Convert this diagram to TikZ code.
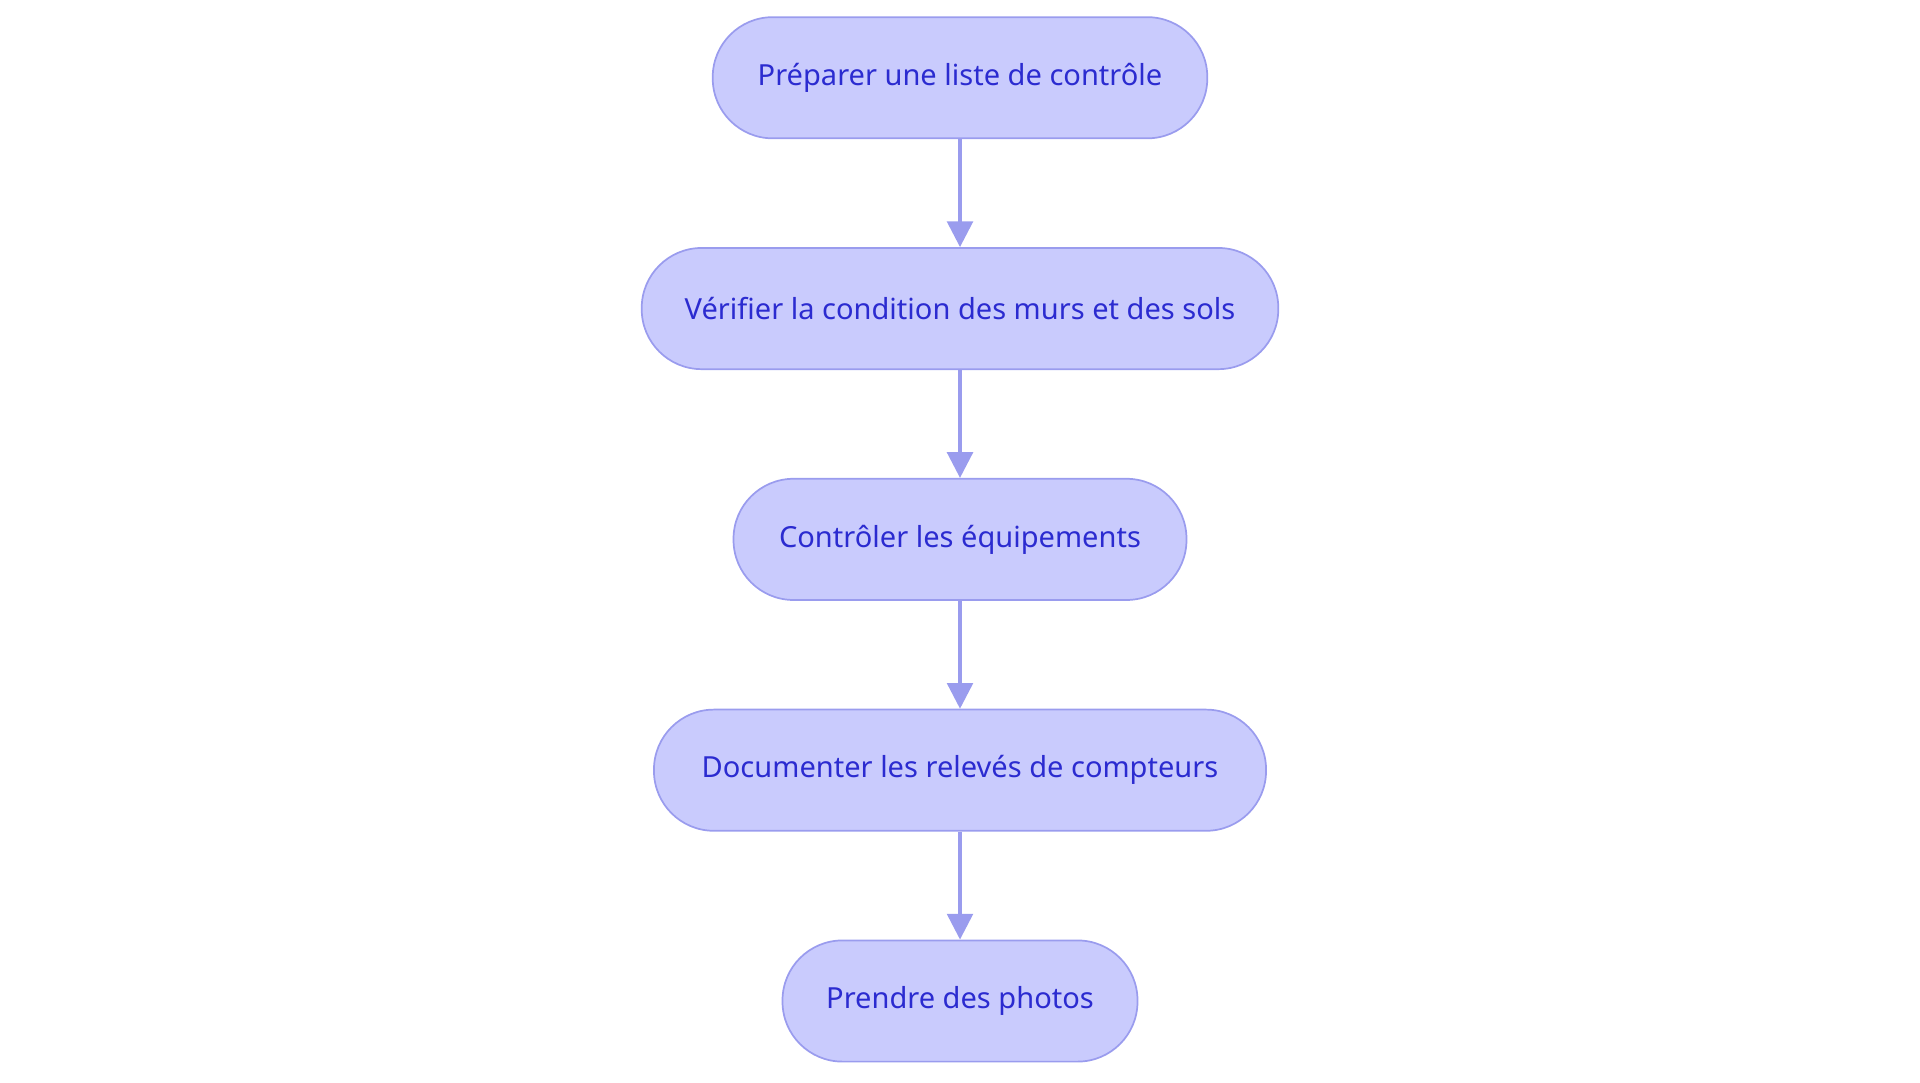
\documentclass[tikz,border=0pt]{standalone}
\usepackage{fontspec}
\setmainfont{Noto Sans}
\usetikzlibrary{arrows.meta}
\definecolor{bfill}{HTML}{C9CBFD}
\definecolor{bline}{HTML}{9A9CEE}
\definecolor{btext}{HTML}{2B2BD0}
\begin{document}
\begin{tikzpicture}[x=0.02cm,y=-0.02cm,
  box/.style={draw=bline,line width=0.8pt,fill=bfill,rounded corners=0.98cm,minimum height=1.98cm,text=btext,font=\fontsize{13.5}{16}\selectfont,inner sep=0pt},
  arr/.style={draw=bline,line width=1.6pt,-{Triangle[length=0.42cm,width=0.42cm]}}]
\useasboundingbox (0,0) rectangle (1568,884);
\node[box,minimum width=8.08cm] (a) at (784,63.5) {Préparer une liste de contrôle};
\node[box,minimum width=10.4cm] (b) at (784,252) {Vérifier la condition des murs et des sols};
\node[box,minimum width=7.4cm] (c) at (784,440.5) {Contrôler les équipements};
\node[box,minimum width=10cm] (d) at (784,629) {Documenter les relevés de compteurs};
\node[box,minimum width=5.8cm] (e) at (784,817.5) {Prendre des photos};
\draw[arr] (a) -- (b);
\draw[arr] (b) -- (c);
\draw[arr] (c) -- (d);
\draw[arr] (d) -- (e);
\end{tikzpicture}
\end{document}
